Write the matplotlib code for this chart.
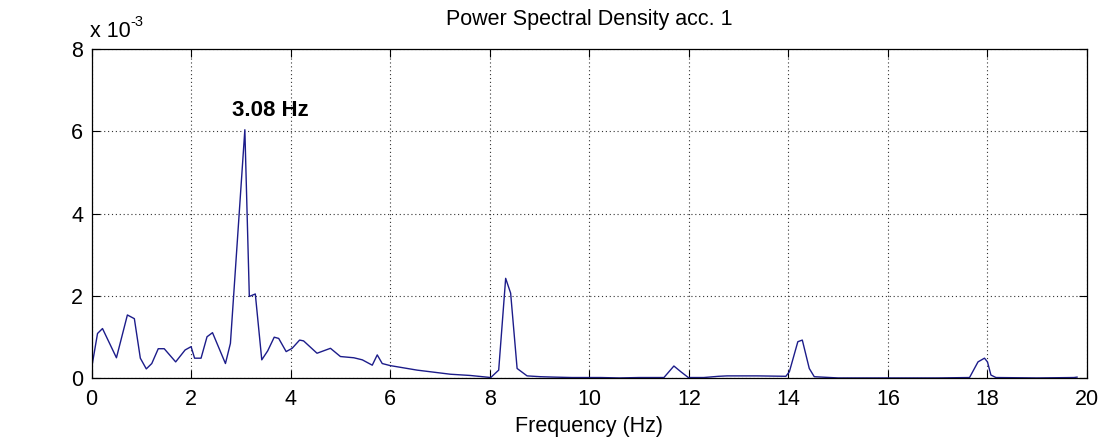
import matplotlib.pyplot as plt
import numpy as np

plt.rcParams['font.family'] = ['Liberation Sans', 'DejaVu Sans']

# PSD (frequency in Hz, PSD in units of 1e-3)
freq = [0.00, 0.12, 0.22, 0.50, 0.72, 0.86, 0.98, 1.10, 1.21, 1.34, 1.46,
        1.69, 1.88, 2.00, 2.07, 2.20, 2.32, 2.43, 2.69, 2.79, 3.08, 3.17,
        3.29, 3.42, 3.54, 3.67, 3.76, 3.91, 4.03, 4.18, 4.26, 4.53, 4.80,
        5.00, 5.27, 5.44, 5.64, 5.74, 5.84, 6.00, 6.54, 7.21, 7.61, 8.02,
        8.18, 8.32, 8.42, 8.55, 8.75, 9.02, 9.30, 9.65, 10.23, 10.60, 11.00,
        11.50, 11.70, 11.84, 11.99, 12.30, 12.60, 12.77, 13.38, 13.95, 14.02,
        14.19, 14.28, 14.42, 14.52, 15.00, 16.00, 17.00, 17.64, 17.81, 17.94,
        18.00, 18.07, 18.17, 19.00, 19.74, 19.80]
psd_e3 = [0.24, 1.09, 1.21, 0.50, 1.54, 1.45, 0.49, 0.23, 0.36, 0.72, 0.72,
          0.40, 0.69, 0.77, 0.49, 0.49, 1.01, 1.11, 0.36, 0.85, 6.04, 1.99,
          2.05, 0.45, 0.67, 1.00, 0.97, 0.65, 0.73, 0.93, 0.91, 0.61, 0.73,
          0.53, 0.50, 0.45, 0.32, 0.57, 0.36, 0.31, 0.20, 0.10, 0.07, 0.02,
          0.20, 2.43, 2.07, 0.24, 0.06, 0.04, 0.03, 0.02, 0.02, 0.01, 0.02,
          0.02, 0.30, 0.16, 0.02, 0.02, 0.05, 0.06, 0.06, 0.05, 0.16,
          0.89, 0.93, 0.24, 0.04, 0.01, 0.01, 0.01, 0.02, 0.40, 0.49,
          0.40, 0.08, 0.02, 0.01, 0.02, 0.03]

peak_freq = 3.08
peak_label = '3.08 Hz'

fig = plt.figure(figsize=(11.03, 4.42), dpi=100)
ax = fig.add_axes([0.083, 0.144, 0.9025, 0.745])

ax.plot(freq, psd_e3, color='#1c1c8a', linewidth=1.0)

ax.set_xlim(0, 20)
ax.set_ylim(0, 8)
ax.set_xticks(np.arange(0, 21, 2))
ax.set_yticks(np.arange(0, 9, 2))
ax.grid(True, color='#333333', linestyle=(0, (1, 2.5)), linewidth=0.8)
ax.tick_params(direction='in', length=6, width=0.8, labelsize=15.5,
               top=True, right=True, pad=6)
ax.tick_params(axis='x', pad=8)
for s in ax.spines.values():
    s.set_linewidth(0.9)

ax.set_title('Power Spectral Density acc. 1', fontsize=15.5, pad=17)
ax.set_xlabel('Frequency (Hz)', fontsize=15.5, labelpad=4)

# scale factor above the y axis, MATLAB style
ax.text(-0.002, 1.02, 'x 10', transform=ax.transAxes, fontsize=15.5,
        ha='left', va='bottom')
ax.text(0.0395, 1.062, '-3', transform=ax.transAxes, fontsize=10.5,
        ha='left', va='bottom')

ax.text(peak_freq - 0.26, 6.37, peak_label, fontsize=16, fontweight='bold',
        ha='left', va='baseline')

fig.savefig('out.png', dpi=100)
